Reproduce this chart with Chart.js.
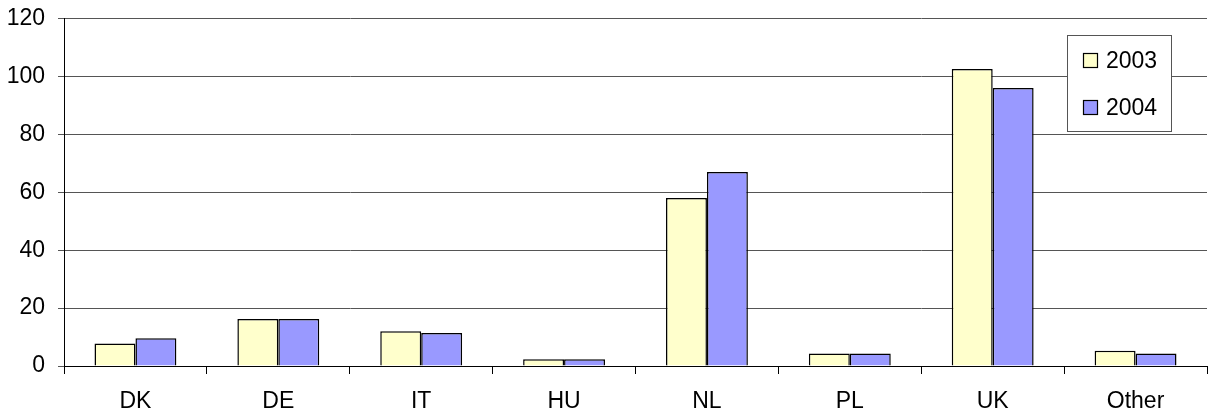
<!DOCTYPE html>
<html>
<head>
<meta charset="utf-8">
<script src="https://cdn.jsdelivr.net/npm/chart.js@4"></script>
<style>
html,body{margin:0;padding:0;background:#fff;}
#wrap{width:1208px;height:416px;position:relative;}
</style>
</head>
<body>
<div id="wrap"><canvas id="c" width="1208" height="416"></canvas></div>
<script>
const categories = ["DK","DE","IT","HU","NL","PL","UK","Other"];
const seriesNames = ["2003","2004"];
const values2003 = [7.8,16.2,12.0,2.3,58.0,4.3,102.6,5.3];
const values2004 = [9.6,16.2,11.4,2.3,67.0,4.3,96.0,4.3];
const yTicks = [0,20,40,60,80,100,120];
const colors = ["#FFFFCC","#9999FF"];
const FONT = '"Liberation Sans", Arial, sans-serif';

const legendPlugin = {
  id:'boxLegend',
  afterDraw(chart){
    const ctx = chart.ctx;
    ctx.save();
    const x0=1067.5,y0=35.5,w=104,h=96;
    ctx.fillStyle='#fff';
    ctx.fillRect(x0,y0,w,h);
    ctx.strokeStyle='#555';
    ctx.lineWidth=1;
    ctx.strokeRect(x0,y0,w,h);
    const rows=[60.5,107.5];
    ctx.font='23px ' + FONT;
    ctx.textBaseline='middle';
    ctx.textAlign='left';
    rows.forEach((yy,i)=>{
      ctx.fillStyle=colors[i];
      ctx.fillRect(1083.5,yy-7,14,14);
      ctx.strokeStyle='#000';
      ctx.lineWidth=1.2;
      ctx.strokeRect(1083.5,yy-7,14,14);
      ctx.fillStyle='#000';
      ctx.fillText(seriesNames[i],1106,yy+1);
    });
    ctx.restore();
  }
};

new Chart(document.getElementById('c'),{
  type:'bar',
  data:{
    labels:categories,
    datasets:[
      {label:seriesNames[0],data:values2003,backgroundColor:colors[0],borderColor:'#000',borderWidth:1.5,categoryPercentage:0.573,barPercentage:1.0},
      {label:seriesNames[1],data:values2004,backgroundColor:colors[1],borderColor:'#000',borderWidth:1.5,categoryPercentage:0.573,barPercentage:1.0}
    ]
  },
  options:{
    responsive:false,
    animation:false,
    events:[],
    layout:{padding:{top:18.5,right:1,left:0,bottom:0}},
    plugins:{legend:{display:false},tooltip:{enabled:false}},
    scales:{
      x:{
        grid:{offset:true,drawOnChartArea:false,color:'#000',tickLength:8,lineWidth:1},
        border:{color:'#000',width:1},
        ticks:{color:'#000',font:{family:FONT,size:23},padding:14,maxRotation:0},
        afterFit(s){s.height=50;s.paddingLeft=0;s.paddingRight=0;}
      },
      y:{
        min:0,max:120,
        afterBuildTicks(s){s.ticks=yTicks.map(v=>({value:v}));},
        grid:{color:'#555',tickLength:6,lineWidth:1},
        border:{color:'#000',width:1},
        ticks:{color:'#000',font:{family:FONT,size:23},padding:13},
        afterFit(s){s.width=64;s.paddingTop=0;s.paddingBottom=0;}
      }
    }
  },
  plugins:[legendPlugin]
});
</script>
</body>
</html>
